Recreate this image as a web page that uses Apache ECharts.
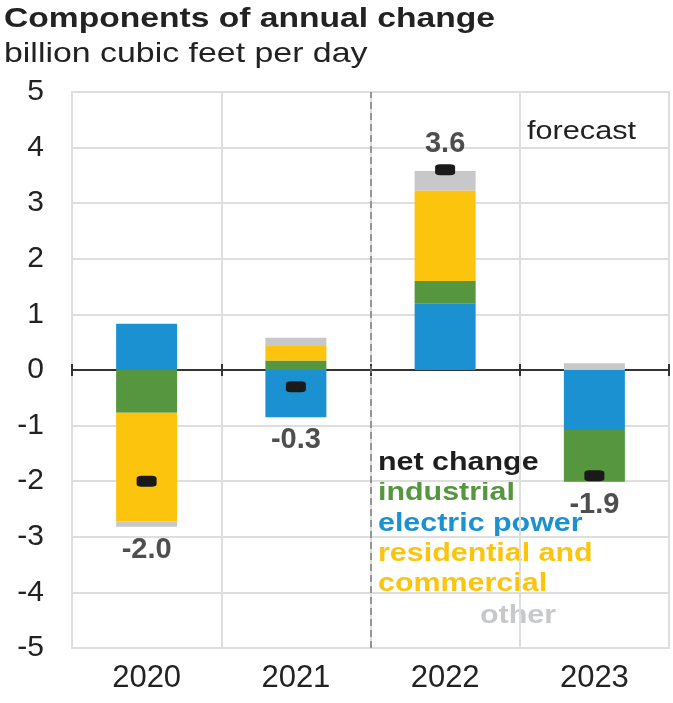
<!DOCTYPE html>
<html>
<head>
<meta charset="utf-8">
<script src="https://cdn.jsdelivr.net/npm/echarts@6/dist/echarts.min.js"></script>
<style>
html,body{margin:0;padding:0;background:#fff;}
#chart{width:673px;height:703px;}
</style>
</head>
<body>
<div id="chart"></div>
<script>
// ---- data ----
const categories = ['2020', '2021', '2022', '2023'];
const electricPower = [0.83, -0.85, 1.20, -1.08];
const industrial = [-0.77, 0.17, 0.40, -0.93];
const residentialCommercial = [-1.95, 0.26, 1.63, 0.0];
const other = [-0.10, 0.15, 0.35, 0.12];
const netChange = [-2.0, -0.3, 3.6, -1.9];
const yTicks = [-5, 5, 1]; // min, max, interval
const forecastBoundary = 2; // forecast begins at the boundary before category index 2

const components = [electricPower, industrial, residentialCommercial, other];
// extremes of each stacked bar (for placing net change labels)
const extremes = categories.map((c, i) => {
  let pos = 0, neg = 0;
  components.forEach(arr => { if (arr[i] >= 0) pos += arr[i]; else neg += arr[i]; });
  return netChange[i] >= 0 ? pos : neg;
});

const FONT = 'Liberation Sans, Arial, sans-serif';
const chart = echarts.init(document.getElementById('chart'), null, {renderer: 'canvas'});

const barCommon = {type: 'bar', stack: 'total', barWidth: 61, xAxisIndex: 0, yAxisIndex: 0};

function txt(x, y, text, font, fill, sx) {
  return {type: 'text', x: x, y: y, scaleX: sx, scaleY: 1,
          style: {text: text, font: font, fill: fill, align: 'left', verticalAlign: 'top'}};
}

const option = {
  animation: false,
  backgroundColor: '#fff',
  grid: {left: 72, right: 4, top: 92, bottom: 55, show: true, borderColor: '#dedede', borderWidth: 2},
  xAxis: [
    {type: 'category', data: categories, position: 'bottom',
     axisLine: {onZero: true, onZeroAxisIndex: 0, lineStyle: {color: '#333', width: 2}},
     axisTick: {show: true, length: 6, lineStyle: {color: '#333', width: 2}},
     axisLabel: {show: false},
     splitLine: {show: true, lineStyle: {color: '#dedede', width: 2}}},
    {type: 'category', data: categories, position: 'bottom',
     axisLine: {show: false, onZero: false}, axisTick: {show: false},
     axisLabel: {show: true, margin: 15, fontFamily: FONT, fontSize: 31, color: '#222'},
     splitLine: {show: false}},
    {type: 'value', min: 0, max: categories.length, show: false, position: 'top'},
    {type: 'category', data: categories, position: 'bottom',
     axisLine: {show: true, onZero: true, onZeroAxisIndex: 0, lineStyle: {color: '#333', width: 2}},
     axisTick: {show: true, inside: true, length: 6, lineStyle: {color: '#333', width: 2}},
     axisLabel: {show: false}, splitLine: {show: false}}
  ],
  yAxis: {
    type: 'value', min: yTicks[0], max: yTicks[1], interval: yTicks[2],
    axisLine: {show: false}, axisTick: {show: false},
    axisLabel: {align: 'right', margin: 28, fontFamily: FONT, fontSize: 30, color: '#222'},
    splitLine: {show: true, lineStyle: {color: '#dedede', width: 2}}
  },
  series: [
    Object.assign({name: 'electric power', data: electricPower, itemStyle: {color: '#1b91d2'}}, barCommon),
    Object.assign({name: 'industrial', data: industrial, itemStyle: {color: '#55963f'}}, barCommon),
    Object.assign({name: 'residential and commercial', data: residentialCommercial, itemStyle: {color: '#fdc40e'}}, barCommon),
    Object.assign({name: 'other', data: other, itemStyle: {color: '#c7c8ca'}}, barCommon),
    {name: 'net change', type: 'scatter', xAxisIndex: 0, data: netChange,
     symbol: 'roundRect', symbolSize: [20, 11], itemStyle: {color: '#1a1a1a', opacity: 1}, z: 5},
    {name: 'net labels', type: 'scatter', xAxisIndex: 0, z: 6,
     symbolSize: 1, itemStyle: {color: 'rgba(0,0,0,0)'},
     data: extremes.map((v, i) => ({
       value: v,
       label: {show: true, position: netChange[i] >= 0 ? 'top' : 'bottom',
               distance: netChange[i] >= 0 ? 12 : 8,
               formatter: netChange[i].toFixed(1),
               fontFamily: FONT, fontSize: 29, fontWeight: 'bold', color: '#222'}
     }))},
    {name: 'forecast line', type: 'line', xAxisIndex: 2, data: [[forecastBoundary, 0]],
     showSymbol: false, symbolSize: 0, lineStyle: {opacity: 0},
     markLine: {silent: true, symbol: 'none', label: {show: false},
       lineStyle: {color: '#7d7d7d', type: [7, 4], width: 1.5},
       data: [{xAxis: forecastBoundary}]}}
  ],
  graphic: [
    txt(4, 5, 'Components of annual change', 'bold 28px ' + FONT, '#222', 1.2),
    txt(4, 40, 'billion cubic feet per day', '28px ' + FONT, '#222', 1.21),
    txt(527, 119, 'forecast', '26px ' + FONT, '#222', 1.18),
    txt(378, 450, 'net change', 'bold 26px ' + FONT, '#1e1e1e', 1.17),
    txt(378, 480, 'industrial', 'bold 26px ' + FONT, '#55963f', 1.17),
    txt(378, 511, 'electric power', 'bold 26px ' + FONT, '#1b91d2', 1.17),
    txt(378, 541, 'residential and', 'bold 26px ' + FONT, '#fdc40e', 1.17),
    txt(378, 571, 'commercial', 'bold 26px ' + FONT, '#fdc40e', 1.17),
    txt(480, 603, 'other', 'bold 26px ' + FONT, '#c7c8ca', 1.17)
  ]
};
chart.setOption(option);
</script>
</body>
</html>
